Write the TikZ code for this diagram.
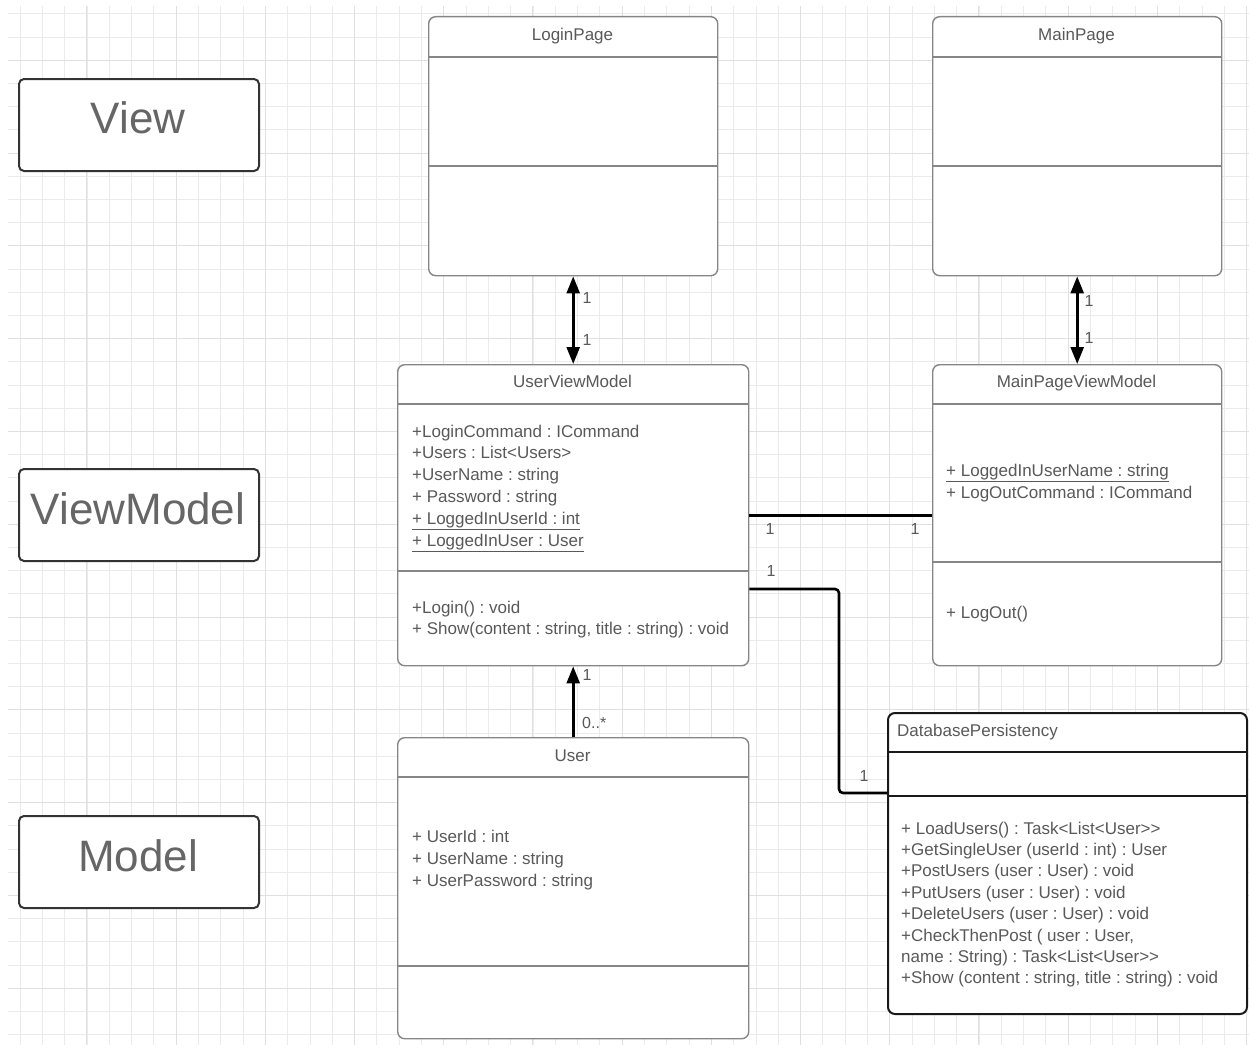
\documentclass[tikz,border=0pt]{standalone}
\usepackage{fontspec}
\setmainfont{Liberation Sans}
\frenchspacing
\usetikzlibrary{arrows.meta}

\definecolor{gridminor}{HTML}{EBEBEB}
\definecolor{gridmajor}{HTML}{E0E0E0}
\definecolor{boxline}{HTML}{868686}
\definecolor{ink}{HTML}{595959}
\definecolor{layerink}{HTML}{666666}
\definecolor{layerline}{HTML}{333333}

\tikzset{
  gridthin/.style={draw=gridminor, line width=0.8pt},
  gridthick/.style={draw=gridmajor, line width=0.9pt},
  umlclass/.style={draw=boxline, line width=1.4pt, rounded corners=7pt, fill=white,
    anchor=north west, inner sep=0pt},
  umlstrong/.style={umlclass, draw=black!90, line width=2pt},
  divider/.style={draw=boxline, line width=1.4pt},
  strongdivider/.style={draw=black!90, line width=2pt},
  layerbox/.style={draw=layerline, line width=2pt, rounded corners=5pt, fill=white,
    anchor=north west, inner sep=0pt, minimum width=240pt, minimum height=92pt},
  layertext/.style={text=layerink, font=\fontsize{44}{50}\selectfont, inner sep=0pt},
  classtitle/.style={anchor=base, inner sep=0pt, text=ink, font=\fontsize{17}{20}\selectfont},
  member/.style={anchor=base west, inner sep=0pt, text=ink, font=\fontsize{17}{20}\selectfont},
  mult/.style={anchor=center, inner sep=0pt, text=ink, font=\fontsize{16}{19}\selectfont},
  link/.style={draw=black, line width=2.6pt},
  tip/.tip={Triangle[width=13pt,length=17pt]},
}

\begin{document}
\begin{tikzpicture}[x=1pt,y=-1pt]
\useasboundingbox (0,0) rectangle (1249,1049);
\fill[white] (0,0) rectangle (1249,1049);

% background grid
\begin{scope}
  \clip (8,6) rectangle (1249,1045);
  \foreach \k in {1,...,56}
    \draw[gridthin] ({-2.3+22.3*\k},6) -- ({-2.3+22.3*\k},1045);
  \foreach \k in {-1,...,43}
    \draw[gridthin] (8,{37+23.2*\k}) -- (1249,{37+23.2*\k});
  \foreach \k in {4,8,...,56}
    \draw[gridthick] ({-2.3+22.3*\k},6) -- ({-2.3+22.3*\k},1045);
  \foreach \k in {1,5,...,41}
    \draw[gridthick] (8,{37+23.2*\k}) -- (1249,{37+23.2*\k});
\end{scope}

% layer labels
\node[layerbox] (layerview) at (18,78) {};
\node[layertext] (layerviewT) at (138,118) {View};
\node[layerbox] (layervm) at (18,468) {};
\node[layertext] (layervmT) at (138,509) {ViewModel};
\node[layerbox] (layermodel) at (18,815) {};
\node[layertext] (layermodelT) at (138,856) {Model};

% LoginPage
\node[umlclass, minimum width=289pt, minimum height=259pt] (login) at (428,16) {};
\draw[divider] ([yshift=-41pt]login.north west) -- ([yshift=-41pt]login.north east);
\draw[divider] ([yshift=-150pt]login.north west) -- ([yshift=-150pt]login.north east);
\node[classtitle] (loginT) at (572.5,41) {LoginPage};

% MainPage
\node[umlclass, minimum width=289pt, minimum height=259pt] (main) at (932,16) {};
\draw[divider] ([yshift=-41pt]main.north west) -- ([yshift=-41pt]main.north east);
\draw[divider] ([yshift=-150pt]main.north west) -- ([yshift=-150pt]main.north east);
\node[classtitle] (mainT) at (1076.5,41) {MainPage};

% UserViewModel
\node[umlclass, minimum width=351pt, minimum height=301pt] (uvm) at (397,364) {};
\draw[divider] ([yshift=-40pt]uvm.north west) -- ([yshift=-40pt]uvm.north east);
\draw[divider] ([yshift=-207pt]uvm.north west) -- ([yshift=-207pt]uvm.north east);
\node[classtitle] (uvmT) at (572.5,387) {UserViewModel};
\foreach \t [count=\i] in {{+LoginCommand : ICommand},{+Users : List<Users>},
    {+UserName : string},{+ Password : string},
    {\underline{+ LoggedInUserId : int}},{\underline{+ LoggedInUser : User}}}
  \node[member] (uvmA\i) at (412,{437+21.8*(\i-1)}) {\t};
\node[member] (uvmM1) at (412,613) {+Login() : void};
\node[member] (uvmM2) at (412,634) {+ Show(content : string, title : string) : void};

% MainPageViewModel
\node[umlclass, minimum width=289pt, minimum height=301pt] (mpvm) at (932,364) {};
\draw[divider] ([yshift=-40pt]mpvm.north west) -- ([yshift=-40pt]mpvm.north east);
\draw[divider] ([yshift=-198pt]mpvm.north west) -- ([yshift=-198pt]mpvm.north east);
\node[classtitle] (mpvmT) at (1076.5,387) {MainPageViewModel};
\node[member] (mpvmA1) at (946,476) {\underline{+ LoggedInUserName : string}};
\node[member] (mpvmA2) at (946,498) {+ LogOutCommand : ICommand};
\node[member] (mpvmM1) at (946,618) {+ LogOut()};

% User
\node[umlclass, minimum width=351pt, minimum height=301pt] (user) at (397,737) {};
\draw[divider] ([yshift=-40pt]user.north west) -- ([yshift=-40pt]user.north east);
\draw[divider] ([yshift=-229pt]user.north west) -- ([yshift=-229pt]user.north east);
\node[classtitle] (userT) at (572.5,761) {User};
\node[member] (userA1) at (412,842) {+ UserId : int};
\node[member] (userA2) at (412,864) {+ UserName : string};
\node[member] (userA3) at (412,886) {+ UserPassword : string};

% DatabasePersistency
\node[umlstrong, minimum width=359pt, minimum height=301pt] (db) at (887,712) {};
\draw[strongdivider] ([yshift=-40pt]db.north west) -- ([yshift=-40pt]db.north east);
\draw[strongdivider] ([yshift=-84pt]db.north west) -- ([yshift=-84pt]db.north east);
\node[member] (dbT) at (897,736) {DatabasePersistency};
\foreach \t [count=\i] in {{+ LoadUsers() : Task<List<User>{}>},
    {+GetSingleUser (userId : int) : User},{+PostUsers (user : User) : void},
    {+PutUsers (user : User) : void},{+DeleteUsers (user : User) : void},
    {+CheckThenPost ( user : User,},{name : String) : Task<List<User>{}>},
    {+Show (content : string, title : string) : void}}
  \node[member] (dbM\i) at (901,{834+21.4*(\i-1)}) {\t};

% associations
\draw[link, tip-tip] (login.south) -- (uvm.north);
\node[mult] (m1) at (587,298) {1};
\node[mult] (m2) at (587,340) {1};

\draw[link, tip-tip] (main.south) -- (mpvm.north);
\node[mult] (m3) at (1089,301) {1};
\node[mult] (m4) at (1089,338) {1};

\draw[link] (uvm.east) -- (mpvm.west);
\node[mult] (m5) at (770,529) {1};
\node[mult] (m6) at (915,529) {1};

\draw[link, rounded corners=4pt] ([yshift=-225pt]uvm.north east)
  -| ([xshift=-48pt,yshift=-81pt]db.north west) -- ([yshift=-81pt]db.north west);
\node[mult] (m7) at (771,571) {1};
\node[mult] (m8) at (864,776) {1};

\draw[link, -tip] (user.north) -- (uvm.south);
\node[mult] (m9) at (587,675) {1};
\node[mult, anchor=west] (m10) at (582,723) {0..*};
\end{tikzpicture}
\end{document}
